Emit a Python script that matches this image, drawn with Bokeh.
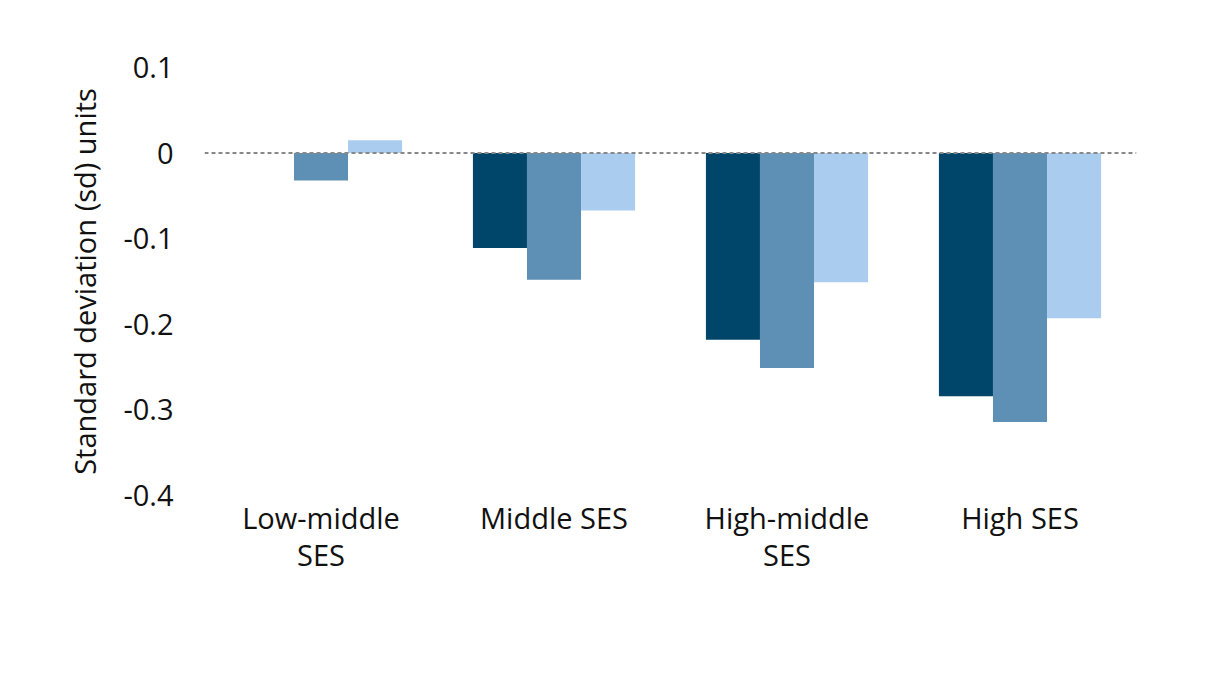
from bokeh.plotting import figure
from bokeh.models import ColumnDataSource, FactorRange, Range1d, Span, FixedTicker
from bokeh.transform import dodge
from bokeh.embed import file_html
from bokeh.resources import INLINE

categories = ["Low-middle\nSES", "Middle SES", "High-middle\nSES", "High SES"]
series_a = [0.0, -0.111, -0.218, -0.284]
series_b = [-0.032, -0.148, -0.251, -0.314]
series_c = [0.015, -0.067, -0.151, -0.193]
y_ticks = [0.1, 0.0, -0.1, -0.2, -0.3, -0.4]
y_tick_labels = ["0.1", "0", "-0.1", "-0.2", "-0.3", "-0.4"]

src = ColumnDataSource(dict(cat=categories, a=series_a, b=series_b, c=series_c))

FONT = "Open Sans"
FS = "29px"
p = figure(x_range=FactorRange(*categories), y_range=Range1d(-0.4, 0.1),
           width=1200, height=684, output_backend="svg", toolbar_location=None,
           min_border_left=204, min_border_right=64, min_border_top=67, min_border_bottom=189)
p.outline_line_color = None
p.grid.grid_line_color = None
p.background_fill_color = "white"

w = 0.232
p.vbar(x=dodge("cat", -w, range=p.x_range), top="a", bottom=0, width=w, source=src,
       fill_color="#00466A", line_color=None)
p.vbar(x=dodge("cat", 0, range=p.x_range), top="b", bottom=0, width=w, source=src,
       fill_color="#5E8FB4", line_color=None)
p.vbar(x=dodge("cat", w, range=p.x_range), top="c", bottom=0, width=w, source=src,
       fill_color="#AACDEF", line_color=None)

p.add_layout(Span(location=0, dimension="width", line_color="#888888",
                  line_width=2, line_dash="4 3"))

p.yaxis.ticker = FixedTicker(ticks=y_ticks)
p.yaxis.major_label_overrides = {t: l for t, l in zip(y_ticks, y_tick_labels)}
for ax in (p.xaxis, p.yaxis):
    ax.axis_line_color = None
    ax.major_tick_line_color = None
    ax.minor_tick_line_color = None
    ax.major_label_text_font = FONT
    ax.major_label_text_font_size = FS
    ax.major_label_text_color = "#111111"
p.xaxis.major_label_text_line_height = 0.95
p.yaxis.major_label_standoff = 25
p.xaxis.major_label_standoff = -4
p.yaxis.axis_label = "Standard deviation (sd) units"
p.yaxis.axis_label_text_font = FONT
p.yaxis.axis_label_text_font_size = FS
p.yaxis.axis_label_text_font_style = "normal"
p.yaxis.axis_label_text_color = "#111111"
p.yaxis.axis_label_standoff = 16

open("out.html", "w").write(file_html(p, INLINE))
